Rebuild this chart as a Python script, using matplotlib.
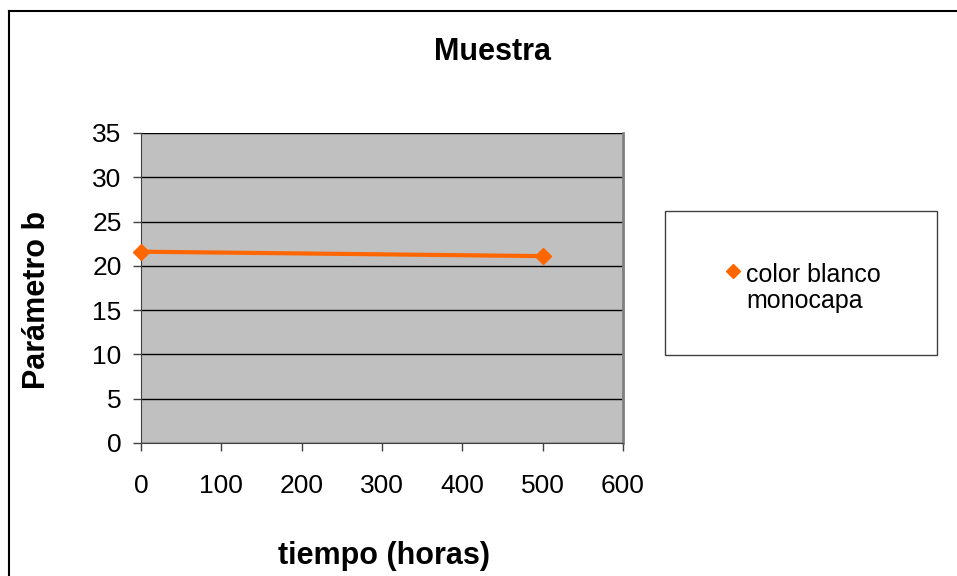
import matplotlib
matplotlib.use('Agg')
import matplotlib.pyplot as plt
from matplotlib.lines import Line2D
from matplotlib.patches import Rectangle

plt.rcParams['font.family'] = ['Liberation Sans', 'DejaVu Sans']

# series data
horas = [0, 500]
param_b = [21.6, 21.1]
serie_nombre = 'color blanco\nmonocapa'

y_ticks = [0, 5, 10, 15, 20, 25, 30, 35]
x_ticks = [0, 100, 200, 300, 400, 500, 600]

W, H = 957, 576
fig = plt.figure(figsize=(W / 100, H / 100), dpi=100)

# chart area border (only top and left edges fall inside the image)
fig.add_artist(Line2D([8.5 / W, 1.0], [1 - 10.5 / H] * 2, color='black', lw=1.5,
                      transform=fig.transFigure))
fig.add_artist(Line2D([8.5 / W] * 2, [0.0, 1 - 10.5 / H], color='black', lw=1.5,
                      transform=fig.transFigure))

ax = fig.add_axes([141 / W, 1 - 443 / H, 482 / W, 310 / H])
ax.set_facecolor('#C0C0C0')
ax.plot(horas, param_b, color='#FF6600', lw=3, marker='D', ms=8,
        markeredgecolor='#FF6600', clip_on=False, zorder=3)

ax.set_xlim(0, 600)
ax.set_ylim(0, 35)
ax.set_xticks(x_ticks)
ax.set_yticks(y_ticks)
ax.yaxis.grid(True, color='black', lw=1)
ax.set_axisbelow(True)
for side in ['left', 'bottom']:
    ax.spines[side].set_color('#404040')
ax.spines['top'].set_visible(False)
ax.spines['right'].set_color('#808080')
ax.spines['right'].set_linewidth(2)
ax.tick_params(direction='out', length=6, width=1, labelsize=19, pad=8,
               color='#404040')
ax.tick_params(axis='x', pad=16)

fig.text(492 / W, 1 - 52 / H, 'Muestra', ha='center', va='center',
         fontsize=22, fontweight='bold')
fig.text(37 / W, 1 - 300 / H, 'Parámetro b', ha='center', va='center',
         rotation=90, fontsize=22, fontweight='bold')
fig.text(384 / W, 1 - 556 / H, 'tiempo (horas)', ha='center', va='center',
         fontsize=22, fontweight='bold')

# legend box
fig.add_artist(Rectangle((665 / W, 1 - 355 / H), 272 / W, 144 / H,
                         transform=fig.transFigure, facecolor='white',
                         edgecolor='#404040', lw=1))
fig.add_artist(Line2D([733 / W], [1 - 271 / H], marker='D', ms=7, color='#FF6600',
                      transform=fig.transFigure))
fig.text(746 / W, 1 - 288 / H, serie_nombre, ha='left', va='center',
         fontsize=18, linespacing=1.15)

fig.savefig('out.png', dpi=100)
